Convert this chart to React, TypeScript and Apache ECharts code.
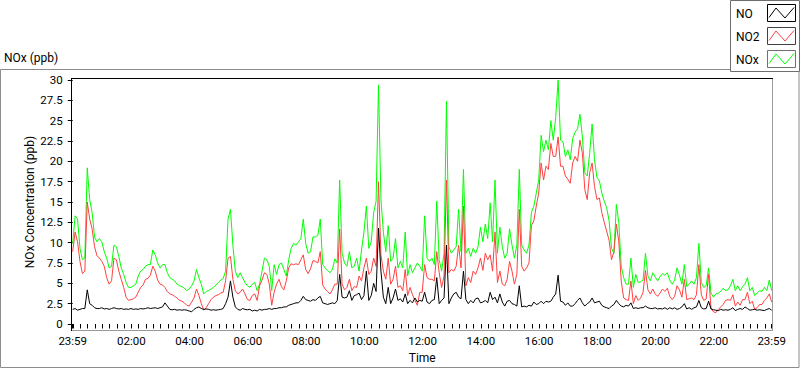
import React, { useEffect, useRef } from "react";
import * as echarts from "echarts";

// Sample times in minutes after 23:59 (every 5 minutes, 24 h)
const STEP_MIN = 5;

const NO = [
  1.8, 1.9, 1.7, 1.8, 1.9, 1.9, 4.2, 2.5, 2.3, 2.0,
  1.9, 1.9, 2.0, 1.85, 1.9, 1.8, 1.9, 2.0, 1.9, 1.85,
  1.9, 1.8, 1.85, 1.8, 1.9, 1.8, 1.85, 1.8, 1.9, 1.85,
  1.9, 2.0, 1.9, 1.95, 2.0, 1.9, 2.0, 2.1, 2.6, 2.2,
  1.8, 1.75, 1.8, 1.7, 1.75, 1.7, 1.75, 1.7, 1.6, 1.5,
  1.8, 2.0, 2.1, 1.9, 1.8, 1.85, 1.8, 1.7, 1.75, 1.7,
  1.75, 1.8, 1.9, 2.5, 3.3, 5.3, 3.3, 2.1, 1.8, 1.7,
  1.9, 1.8, 1.75, 1.8, 1.6, 1.7, 1.6, 1.8, 1.7, 1.8,
  1.8, 1.9, 1.8, 1.9, 1.9, 2.0, 2.0, 2.1, 2.1, 2.3,
  2.4, 2.5, 2.6, 2.6, 2.9, 3.4, 3.0, 2.9, 2.8, 3.0,
  2.9, 3.2, 3.4, 2.6, 2.5, 2.4, 2.5, 2.6, 2.5, 2.9,
  6.1, 3.3, 3.2, 3.3, 4.1, 2.9, 3.5, 3.6, 3.8, 3.0,
  3.5, 6.5, 2.9, 3.5, 5.0, 4.0, 11.8, 6.5, 3.3, 2.5,
  4.5, 2.5, 3.2, 4.3, 2.9, 3.1, 2.7, 3.7, 2.5, 2.9,
  2.6, 3.2, 2.7, 2.9, 2.8, 3.9, 2.7, 2.5, 2.9, 3.0,
  5.7, 2.5, 2.9, 3.2, 9.7, 2.5, 3.2, 3.7, 3.9, 3.3,
  3.1, 6.5, 3.0, 2.5, 2.9, 2.6, 3.1, 3.2, 2.6, 2.7,
  2.9, 2.6, 3.9, 3.0, 3.3, 2.6, 3.7, 2.7, 2.2, 2.8,
  2.9, 2.5, 2.4, 2.2, 4.7, 2.1, 2.2, 2.1, 2.3, 2.2,
  2.7, 2.4, 2.5, 2.8, 2.5, 2.8, 2.7, 2.8, 3.3, 3.7,
  6.0, 2.8, 2.7, 2.3, 2.6, 2.2, 2.2, 2.5, 2.9, 3.2,
  2.6, 2.2, 2.5, 2.7, 3.2, 2.6, 2.7, 2.8, 2.3, 2.1,
  2.0, 1.9, 2.2, 2.4, 2.9, 2.5, 2.2, 2.1, 2.3, 2.2,
  2.6, 1.9, 2.0, 1.9, 2.0, 2.0, 2.2, 2.0, 1.9, 1.9,
  2.0, 1.85, 1.9, 1.85, 2.0, 1.8, 2.0, 1.85, 2.0, 1.8,
  1.9, 2.1, 2.5, 1.85, 2.0, 1.8, 2.0, 2.1, 2.9, 2.0,
  1.85, 1.9, 2.8, 1.85, 1.75, 1.7, 1.65, 1.8, 1.7, 1.75,
  1.7, 1.8, 2.0, 1.65, 1.8, 1.9, 1.8, 2.1, 1.9, 1.7,
  1.75, 1.8, 1.7, 1.75, 1.7, 1.65, 1.8, 1.9, 1.7,
];

const NO2 = [
  8.9, 11.3, 10.1, 7.7, 6.2, 6.5, 15.0, 12.9, 11.7, 9.5,
  8.4, 8.1, 7.7, 7.1, 5.7, 4.9, 5.3, 8.1, 7.9, 6.5,
  5.5, 4.5, 3.3, 2.9, 3.0, 3.1, 3.3, 3.9, 4.5, 4.8,
  5.5, 5.6, 6.0, 7.1, 6.5, 5.4, 4.9, 4.8, 4.5, 4.0,
  3.7, 3.6, 3.4, 3.2, 2.9, 2.8, 2.6, 2.3, 2.2, 2.7,
  3.2, 4.3, 3.5, 2.5, 1.7, 2.0, 2.5, 3.0, 3.3, 3.5,
  3.6, 3.8, 3.9, 5.3, 8.1, 8.3, 5.5, 4.1, 3.7, 3.9,
  4.3, 3.7, 3.0, 2.9, 3.5, 3.7, 2.9, 4.7, 5.4, 6.3,
  6.1, 4.9, 2.3, 3.9, 4.9, 5.5, 4.6, 4.2, 5.3, 6.9,
  7.4, 7.3, 7.4, 7.3, 7.9, 8.5, 6.7, 6.2, 6.8, 7.8,
  7.7, 7.5, 8.9, 4.8, 4.3, 4.0, 3.7, 4.2, 4.9, 4.9,
  11.7, 4.9, 4.2, 4.5, 5.5, 4.1, 4.6, 4.5, 5.9, 5.3,
  6.9, 8.1, 6.1, 6.5, 8.1, 7.1, 17.5, 8.5, 6.5, 5.5,
  8.1, 4.9, 5.5, 7.1, 4.5, 4.7, 4.1, 6.7, 3.5, 4.5,
  3.6, 2.9, 2.3, 3.9, 3.9, 7.3, 5.7, 5.5, 5.5, 5.3,
  8.9, 6.3, 4.5, 5.9, 17.7, 6.3, 6.7, 6.5, 7.1, 9.7,
  6.9, 14.5, 4.7, 5.7, 5.1, 6.5, 6.1, 6.9, 8.1, 6.6,
  8.7, 7.9, 8.5, 6.5, 11.3, 5.1, 6.5, 4.9, 4.7, 5.5,
  7.7, 6.5, 4.9, 6.1, 14.1, 7.1, 6.5, 6.9, 7.5, 12.1,
  12.7, 14.5, 16.1, 19.8, 17.7, 19.4, 19.0, 22.2, 20.6, 20.6,
  23.0, 19.4, 19.4, 18.2, 17.8, 17.3, 19.8, 20.6, 20.0, 22.6,
  21.0, 16.5, 15.3, 18.6, 19.8, 16.9, 15.3, 15.5, 13.7, 12.5,
  11.4, 10.3, 7.9, 8.9, 12.3, 10.1, 5.3, 3.2, 3.0, 2.9,
  5.3, 2.5, 3.5, 2.9, 3.2, 3.9, 6.6, 4.2, 3.7, 4.3,
  3.7, 3.4, 3.8, 4.3, 4.0, 4.4, 3.4, 3.0, 3.4, 4.7,
  4.2, 3.3, 5.5, 3.0, 3.1, 3.2, 3.0, 3.6, 7.3, 3.6,
  2.9, 3.1, 6.1, 1.9, 1.5, 1.4, 1.8, 2.1, 2.4, 2.9,
  3.0, 2.9, 3.6, 2.2, 2.7, 2.3, 3.0, 3.0, 3.9, 2.5,
  2.8, 1.8, 2.0, 2.4, 2.4, 2.9, 3.2, 3.7, 2.7,
];

const NOX = [
  9.9, 13.3, 12.9, 9.3, 7.9, 8.1, 19.2, 15.3, 13.7, 10.7,
  10.1, 10.5, 10.1, 8.9, 8.1, 6.9, 7.1, 9.7, 9.5, 8.3,
  6.9, 6.1, 5.1, 4.5, 4.5, 4.7, 4.9, 5.9, 6.5, 6.7,
  7.1, 7.3, 7.3, 9.1, 8.5, 7.5, 6.9, 7.3, 7.3, 6.3,
  5.7, 5.5, 5.3, 4.9, 4.7, 4.6, 4.4, 4.1, 4.3, 4.7,
  5.3, 6.7, 5.7, 4.9, 3.7, 4.0, 4.1, 4.3, 4.5, 4.8,
  5.1, 5.4, 5.6, 6.5, 12.9, 14.1, 9.7, 6.5, 5.7, 6.3,
  5.7, 5.1, 4.7, 4.5, 4.9, 5.1, 4.1, 4.9, 6.5, 8.1,
  7.9, 7.1, 4.1, 7.3, 6.1, 7.3, 7.5, 6.7, 5.9, 7.9,
  9.3, 9.9, 9.7, 10.1, 10.5, 12.9, 9.9, 8.7, 8.9, 10.7,
  10.7, 10.9, 12.9, 7.3, 6.9, 6.6, 6.3, 6.7, 8.0, 7.5,
  17.7, 8.7, 7.5, 7.1, 8.9, 6.9, 7.1, 8.1, 6.5, 9.1,
  11.3, 14.5, 9.3, 10.1, 13.7, 15.1, 29.4, 15.3, 11.3, 8.9,
  12.1, 7.7, 8.1, 10.5, 6.9, 7.7, 6.9, 11.3, 5.9, 7.3,
  6.3, 6.9, 7.5, 7.1, 6.5, 13.3, 8.1, 7.7, 8.1, 7.3,
  15.1, 7.9, 6.5, 8.7, 27.4, 9.5, 8.7, 9.1, 9.5, 14.1,
  8.9, 19.0, 8.7, 9.3, 8.3, 9.3, 8.7, 9.5, 11.9, 10.1,
  12.3, 10.5, 14.9, 10.1, 17.7, 8.7, 11.9, 9.5, 8.1, 8.7,
  11.7, 9.7, 8.1, 9.7, 19.0, 9.7, 9.1, 8.7, 9.7, 13.7,
  14.5, 16.1, 17.7, 23.2, 21.2, 22.6, 21.4, 25.0, 22.6, 25.4,
  30.0, 22.6, 22.4, 20.6, 21.4, 20.2, 22.8, 23.6, 24.0, 25.8,
  23.0, 18.6, 18.2, 21.0, 24.6, 20.2, 18.0, 17.6, 16.1, 15.1,
  14.3, 12.7, 9.3, 8.7, 14.7, 12.5, 7.1, 5.7, 4.9, 4.9,
  8.1, 4.5, 6.1, 5.1, 5.2, 5.4, 8.7, 5.9, 5.3, 6.3,
  5.8, 5.3, 5.8, 6.2, 6.0, 6.3, 5.4, 4.9, 5.4, 6.9,
  6.0, 4.9, 7.3, 4.6, 4.9, 5.3, 4.9, 5.7, 9.9, 5.1,
  4.5, 4.7, 6.9, 3.8, 3.3, 3.7, 3.8, 4.0, 4.4, 4.1,
  4.2, 4.7, 5.5, 4.1, 4.7, 4.1, 4.6, 4.9, 5.7, 4.1,
  4.5, 3.5, 3.8, 4.1, 4.0, 4.5, 4.1, 5.4, 4.1,
];

const SERIES_NAMES = ["NO", "NO2", "NOx"];
const SERIES_COLORS = ["#000000", "#ff4040", "#00ff00"];

// x axis: minutes after 23:59; major labels (23:59, 02:00 ... 22:00, 23:59)
const X_MAX = 1440;
const TICK_LABELS = ["23:59", "02:00", "04:00", "06:00", "08:00", "10:00", "12:00", "14:00", "16:00", "18:00", "20:00", "22:00", "23:59"];
const LABEL_VALUES = [0, 121, 241, 361, 481, 601, 721, 841, 961, 1081, 1201, 1321, 1440];
const MINOR_VALUES = [0, ...Array.from({ length: 96 }, (_, k) => 1 + 15 * k), 1440];

const Y_MIN = 0;
const Y_MAX = 30;
const Y_STEP = 2.5;

const FONT = "Roboto, 'Noto Sans', sans-serif";

export default function App() {
  const ref = useRef<HTMLDivElement>(null);

  useEffect(() => {
    document.body.style.margin = "0";
    const chart = echarts.init(ref.current!, null, { renderer: "svg" });
    const toPairs = (arr: number[]) => arr.map((v, i) => [i * STEP_MIN, v]);

    const zig = (x0: number, y0: number) => [
      [x0 + 1.5, y0 + 13],
      [x0 + 8.5, y0 + 3.5],
      [x0 + 17.5, y0 + 13.5],
      [x0 + 26.5, y0 + 3],
    ];
    const swatchY = [4.5, 27.5, 50.5];
    const labelY = [13.5, 36.5, 60];
    const swBorder = ["#000000", "#404040", "#707070"];

    const legendEls: any[] = [
      {
        type: "rect",
        shape: { x: 730.5, y: 0.5, width: 69, height: 71 },
        style: { fill: "#ffffff", stroke: "#6e6e6e", lineWidth: 1 },
        z: 10,
      },
    ];
    SERIES_NAMES.forEach((n, i) => {
      legendEls.push({
        type: "text",
        x: 736,
        y: labelY[i],
        style: { text: n, fontSize: 12, fontFamily: FONT, fill: "#000", verticalAlign: "middle", align: "left" },
        z: 11,
      });
      legendEls.push({
        type: "rect",
        shape: { x: 767.5, y: swatchY[i], width: 28, height: 17 },
        style: { fill: "#ffffff", stroke: swBorder[i], lineWidth: 1 },
        z: 11,
      });
      legendEls.push({
        type: "polyline",
        shape: { points: zig(767.5, swatchY[i]) },
        style: { stroke: SERIES_COLORS[i], lineWidth: 1, fill: null },
        z: 12,
      });
    });

    const option: any = {
      animation: false,
      backgroundColor: "#ffffff",
      textStyle: { fontFamily: FONT },
      grid: { left: 72.7, right: 28.3, top: 80, bottom: 39.5, containLabel: false },
      xAxis: {
        type: "value",
        min: 0,
        max: X_MAX,
        offset: 2,
        axisLine: { show: false },
        axisTick: { show: true, length: 4.5, customValues: MINOR_VALUES, lineStyle: { color: "#000", width: 1 } },
        axisLabel: {
          customValues: LABEL_VALUES,
          formatter: (v: number) => {
            const i = LABEL_VALUES.indexOf(Math.round(v));
            return i >= 0 ? TICK_LABELS[i] : "";
          },
          margin: 9,
          color: "#000",
          fontSize: 11.5,
          fontFamily: FONT,
        },
        splitLine: { show: false },
        name: "Time",
        nameLocation: "middle",
        nameGap: 26,
        nameMoveOverlap: false,
        nameTextStyle: { color: "#000", fontSize: 12, fontFamily: FONT },
      },
      yAxis: {
        type: "value",
        min: Y_MIN,
        max: Y_MAX,
        interval: Y_STEP,
        offset: 3,
        axisLine: { show: false },
        axisTick: { show: true, length: 5, lineStyle: { color: "#000", width: 1 } },
        axisLabel: { margin: 7, color: "#000", fontSize: 11.5, fontFamily: FONT },
        splitLine: { show: false },
        name: "NOx Concentration (ppb)",
        nameLocation: "middle",
        nameGap: 34,
        nameMoveOverlap: false,
        nameTextStyle: { color: "#000", fontSize: 12, fontFamily: FONT },
      },
      graphic: [
        {
          type: "rect",
          shape: { x: 0.5, y: 69.5, width: 798.5, height: 298 },
          style: { fill: "none", stroke: "#8c8c8c", lineWidth: 1 },
          z: 1,
          silent: true,
        },
        {
          type: "text",
          x: 4,
          y: 58,
          style: { text: "NOx (ppb)", fontSize: 12, fontFamily: FONT, fill: "#000", verticalAlign: "middle", align: "left" },
          z: 2,
        },
        { type: "line", shape: { x1: 71, y1: 78.5, x2: 773, y2: 78.5 }, style: { stroke: "#000", lineWidth: 1 }, z: 5 },
        { type: "line", shape: { x1: 71.5, y1: 78, x2: 71.5, y2: 331 }, style: { stroke: "#000", lineWidth: 1 }, z: 5 },
        { type: "line", shape: { x1: 772.5, y1: 79, x2: 772.5, y2: 331 }, style: { stroke: "#9a9a9a", lineWidth: 1 }, z: 5 },
        { type: "line", shape: { x1: 72, y1: 330.5, x2: 773, y2: 330.5 }, style: { stroke: "#9a9a9a", lineWidth: 1 }, z: 5 },
        ...legendEls,
      ],
      series: [
        {
          type: "line",
          name: SERIES_NAMES[2],
          data: toPairs(NOX),
          showSymbol: false,
          symbol: "none",
          lineStyle: { width: 1, color: SERIES_COLORS[2] },
          itemStyle: { color: SERIES_COLORS[2] },
          z: 2,
        },
        {
          type: "line",
          name: SERIES_NAMES[1],
          data: toPairs(NO2),
          showSymbol: false,
          symbol: "none",
          lineStyle: { width: 1, color: SERIES_COLORS[1] },
          itemStyle: { color: SERIES_COLORS[1] },
          z: 3,
        },
        {
          type: "line",
          name: SERIES_NAMES[0],
          data: toPairs(NO),
          showSymbol: false,
          symbol: "none",
          lineStyle: { width: 1, color: SERIES_COLORS[0] },
          itemStyle: { color: SERIES_COLORS[0] },
          z: 4,
        },
      ],
    };
    chart.setOption(option);
    return () => chart.dispose();
  }, []);

  return (
    <div
      ref={ref}
      style={{ position: "absolute", left: 0, top: 0, width: 800, height: 369, background: "#ffffff" }}
    />
  );
}
